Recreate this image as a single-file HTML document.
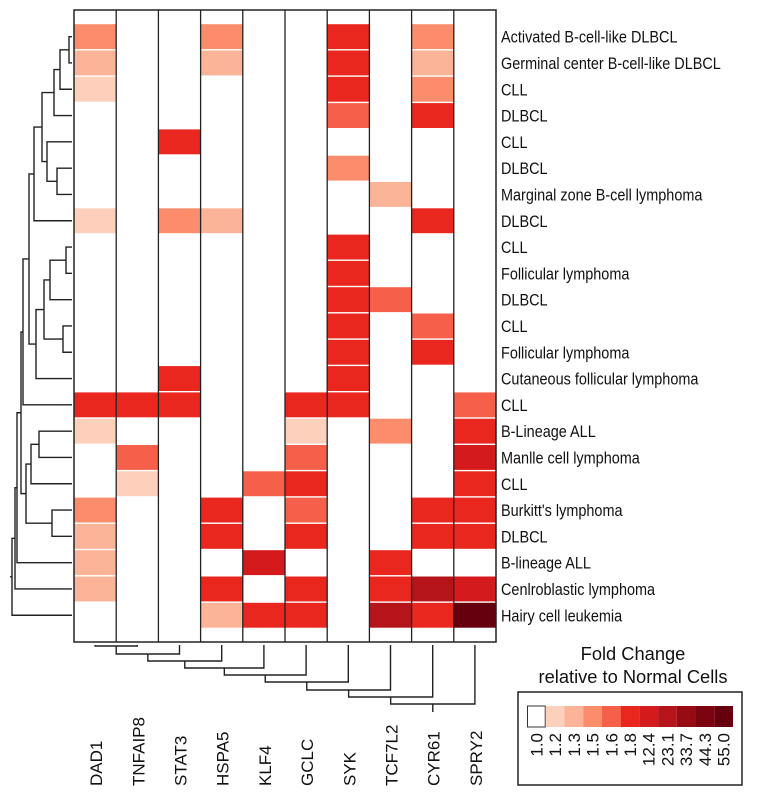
<!DOCTYPE html>
<html><head><meta charset="utf-8"><style>
html,body{margin:0;padding:0;background:#fff;}
svg{display:block;font-family:"Liberation Sans",Arial,sans-serif;}
</style></head><body>
<svg id="chart" width="764" height="797" viewBox="0 0 764 797" xmlns="http://www.w3.org/2000/svg"></svg>
<script>
const genes = ["DAD1","TNFAIP8","STAT3","HSPA5","KLF4","GCLC","SYK","TCF7L2","CYR61","SPRY2"];
const samples = ["Activated B-cell-like DLBCL","Germinal center B-cell-like DLBCL","CLL","DLBCL","CLL","DLBCL","Marginal zone B-cell lymphoma","DLBCL","CLL","Follicular lymphoma","DLBCL","CLL","Follicular lymphoma","Cutaneous follicular lymphoma","CLL","B-Lineage ALL","Manlle cell lymphoma","CLL","Burkitt's lymphoma","DLBCL","B-lineage ALL","Cenlroblastic lymphoma","Hairy cell leukemia"];
// fold change values, rows = samples, cols = genes
const foldChange = [
 [1.5,1.0,1.0,1.5,1.0,1.0,1.8,1.0,1.5,1.0],
 [1.3,1.0,1.0,1.3,1.0,1.0,1.8,1.0,1.3,1.0],
 [1.2,1.0,1.0,1.0,1.0,1.0,1.8,1.0,1.5,1.0],
 [1.0,1.0,1.0,1.0,1.0,1.0,1.6,1.0,1.8,1.0],
 [1.0,1.0,1.8,1.0,1.0,1.0,1.0,1.0,1.0,1.0],
 [1.0,1.0,1.0,1.0,1.0,1.0,1.5,1.0,1.0,1.0],
 [1.0,1.0,1.0,1.0,1.0,1.0,1.0,1.3,1.0,1.0],
 [1.2,1.0,1.5,1.3,1.0,1.0,1.0,1.0,1.8,1.0],
 [1.0,1.0,1.0,1.0,1.0,1.0,1.8,1.0,1.0,1.0],
 [1.0,1.0,1.0,1.0,1.0,1.0,1.8,1.0,1.0,1.0],
 [1.0,1.0,1.0,1.0,1.0,1.0,1.8,1.6,1.0,1.0],
 [1.0,1.0,1.0,1.0,1.0,1.0,1.8,1.0,1.6,1.0],
 [1.0,1.0,1.0,1.0,1.0,1.0,1.8,1.0,1.8,1.0],
 [1.0,1.0,1.8,1.0,1.0,1.0,1.8,1.0,1.0,1.0],
 [1.8,1.8,1.8,1.0,1.0,1.8,1.8,1.0,1.0,1.6],
 [1.2,1.0,1.0,1.0,1.0,1.2,1.0,1.5,1.0,1.8],
 [1.0,1.6,1.0,1.0,1.0,1.6,1.0,1.0,1.0,12.4],
 [1.0,1.2,1.0,1.0,1.6,1.8,1.0,1.0,1.0,1.8],
 [1.5,1.0,1.0,1.8,1.0,1.6,1.0,1.0,1.8,1.8],
 [1.3,1.0,1.0,1.8,1.0,1.8,1.0,1.0,1.8,1.8],
 [1.3,1.0,1.0,1.0,12.4,1.0,1.0,1.8,1.0,1.0],
 [1.3,1.0,1.0,1.8,1.0,1.8,1.0,1.8,23.1,12.4],
 [1.0,1.0,1.0,1.3,1.8,1.8,1.0,23.1,1.8,55.0]
];
const legendLevels = [1.0,1.2,1.3,1.5,1.6,1.8,12.4,23.1,33.7,44.3,55.0];
const legendLabels = ["1.0","1.2","1.3","1.5","1.6","1.8","12.4","23.1","33.7","44.3","55.0"];
const levelColors = ["#ffffff","#fdd0bc","#fcb499","#fb8d6d","#f6604a","#e9271f","#d41a1d","#b5141b","#970b13","#7c0410","#66000d"];
// row dendrogram nodes: [left, right, mergeX]; leaves are row indices
const nA = [0,1,69];
const nB = [nA,2,60];
const nC = [nB,3,54];
const nE = [4,[5,6,57],47];
const nF = [nC,nE,42];
const nG = [nF,7,34];
const nH = [[8,9,66],10,50];
const nI = [11,12,63];
const nJ = [nH,nI,44];
const nK = [nJ,13,36];
const nL = [nG,nK,29];
const nM = [nL,14,23];
const nBot = [[[15,16,39],17,31],[18,19,52],26];
const nN = [nM,nBot,21];
const nO = [nN,20,17];
const nP = [nO,21,15];
const rowTree = [nP,22,12];
// column dendrogram merge heights (staircase; each merges next column)
const colMergeY = [646,654,661,668,675,682,690,697,704];

const NS="http://www.w3.org/2000/svg";
const svg=document.getElementById('chart');
function mk(t,a,p){const e=document.createElementNS(NS,t);for(const k in a)e.setAttribute(k,a[k]);(p||svg).appendChild(e);return e;}
const X0=74,X1=496,Y0=10,Y1=642,rowTop=23.5,rowH=26.3;
const colW=(X1-X0)/genes.length;
const xc=i=>X0+colW*(i+0.5);
const yc=r=>rowTop+rowH*(r+0.5);
function level(v){let k=0;for(let i=0;i<legendLevels.length;i++)if(v>=legendLevels[i]-1e-9)k=i;return k;}

// cells
const cells=mk('g',{});


foldChange.forEach((row,r)=>row.forEach((v,c)=>{
  const k=level(v); if(k===0)return;
  const e=mk('rect',{x:X0+colW*c,y:rowTop+rowH*r+0.7,width:colW,height:rowH-1.4,fill:levelColors[k]},cells);
  
  
}));
// grid
for(let i=1;i<genes.length;i++){const l=mk('line',{x1:X0+colW*i,x2:X0+colW*i,y1:Y0,y2:Y1,stroke:'#222','stroke-width':1.3});

}
const box=mk('rect',{x:X0,y:Y0,width:X1-X0,height:Y1-Y0,fill:'none',stroke:'#222','stroke-width':1.5});



// row labels
samples.forEach((s,r)=>{const t=mk('text',{transform:`translate(501,${yc(r)+6}) scale(0.86,1)`,'font-size':16.8,fill:'#111'});t.textContent=s;

});
// column labels
genes.forEach((g,i)=>{const t=mk('text',{transform:`translate(${xc(i)+7},786) rotate(-90)`,'font-size':17,fill:'#111'});t.textContent=g;

});

// row dendrogram
const dg=mk('g',{stroke:'#222','stroke-width':1.4,fill:'none'});


function drawRow(n){
  if(typeof n==='number')return {x:72,y:yc(n)};
  const a=drawRow(n[0]),b=drawRow(n[1]),x=n[2];
  mk('path',{d:`M${a.x},${a.y}H${x}V${b.y}H${b.x}`},dg);
  return {x:x,y:(a.y+b.y)/2};
}
const root=drawRow(rowTree);
mk('path',{d:`M${root.x},${root.y}H${root.x-2}`},dg);

// column dendrogram
const cg=mk('g',{stroke:'#222','stroke-width':1.4,fill:'none'});


let nodeX=xc(0),nodeY=645;
colMergeY.forEach((y,i)=>{
  const lx=xc(i+1);
  mk('path',{d:`M${nodeX},${nodeY}V${y}H${lx}V645`},cg);
  nodeX=(nodeX+lx)/2; nodeY=y;
});
mk('path',{d:`M${nodeX},${nodeY}V${nodeY+8}`},cg);

// legend
const lg=mk('g',{});


const t1=mk('text',{x:633,y:660,'font-size':18.3,'text-anchor':'middle',fill:'#111'},lg);t1.textContent='Fold Change';


const t2=mk('text',{x:633,y:683,'font-size':18.3,'text-anchor':'middle',fill:'#111'},lg);t2.textContent='relative to Normal Cells';


const lb=mk('rect',{x:518,y:692,width:224,height:93,fill:'none',stroke:'#222','stroke-width':1.5},lg);


const sw0=527,sw1=733,swW=(sw1-sw0)/legendLevels.length;
legendLevels.forEach((v,i)=>{
  const r=mk('rect',{x:sw0+swW*i,y:706,width:swW,height:21,fill:levelColors[i]},lg);
  if(i===0){r.setAttribute('stroke','#333');r.setAttribute('stroke-width','1');r.setAttribute('x',sw0+0.5);r.setAttribute('width',swW-1);}
  
  
  const t=mk('text',{transform:`translate(${sw0+swW*(i+0.5)+6},733) rotate(-90)`,'font-size':17,'text-anchor':'end',fill:'#111'},lg);
  t.textContent=legendLabels[i];
  
  
});
</script>
</body></html>
